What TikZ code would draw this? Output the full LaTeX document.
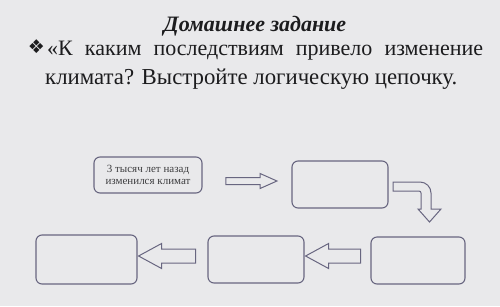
\documentclass[tikz,border=0pt]{standalone}
\usepackage{fontspec}
\setmainfont{Liberation Serif}
\newfontfamily\symfont{DejaVu Sans}
\usetikzlibrary{shapes, arrows, positioning, calc}

\definecolor{bgcol}{RGB}{233,233,235}
\definecolor{boxcol}{RGB}{104,102,128}
\definecolor{inkcol}{RGB}{28,28,30}

\begin{document}
\begin{tikzpicture}[x=1pt, y=-1pt,
    stepbox/.style={draw=boxcol, line width=1.1pt, rounded corners=6pt, inner sep=0pt},
    thinarrow/.style={single arrow, draw=boxcol, line width=1pt, inner xsep=0pt, inner ysep=3pt,
        minimum width=14pt, single arrow head extend=4pt, single arrow tip angle=48},
    widearrow/.style={single arrow, draw=boxcol, line width=1pt, inner xsep=0pt, inner ysep=6.5pt,
        minimum width=24pt, single arrow head extend=5.5pt, single arrow tip angle=57,
        shape border rotate=180}
]

% фон
\fill[bgcol] (0,0) rectangle (500,306);
\useasboundingbox (0,0) rectangle (500,306);

% заголовок
\node[inkcol, anchor=base, inner sep=0pt, font=\fontsize{22}{26}\selectfont\bfseries\itshape] (title) at (255,31) {Домашнее задание};

% вопрос
\node[inkcol, inner sep=0pt, font=\symfont\fontsize{19}{21}\selectfont] (mark) at (36.5,46.5) {❖};
\node[inkcol, anchor=base west, inner sep=0pt, font=\fontsize{22}{26}\selectfont] (line1) at (47,55)
    {\makebox[436pt][s]{«К каким последствиям привело изменение}};
\node[inkcol, anchor=base west, inner sep=0pt, font=\fontsize{22.8}{26}\selectfont] (line2) at (45,84)
    {климата? Выстройте логическую цепочку.};

% верхний ряд
\node[stepbox, minimum width=108pt, minimum height=36pt, align=center,
    font=\fontsize{11}{12.5}\selectfont, text=inkcol!85] (b1) at (148,175)
    {3 тысяч лет назад\\изменился климат};
\node[thinarrow, minimum height=51pt] (a1) at (247.5,181) {};
\node[stepbox, minimum width=96pt, minimum height=47pt] (b2) at (340,184.5) {};

% поворот вниз
\draw[boxcol, line width=1pt] (393,182) [rounded corners=11pt] -- (431,182) [sharp corners]
    -- (431,209) -- (441,209) -- (429.5,222) -- (418,209) -- (421,209)
    [rounded corners=2pt] -- (421,191) [sharp corners] -- (393,191) -- cycle;

% нижний ряд
\node[stepbox, minimum width=94pt, minimum height=47pt] (b3) at (418,260.5) {};
\node[widearrow, minimum height=55pt] (a2) at (339.5,256) {};
\node[stepbox, minimum width=96pt, minimum height=47pt] (b4) at (256,259.5) {};
\node[widearrow, minimum height=57pt] (a3) at (173.5,256) {};
\node[stepbox, minimum width=101pt, minimum height=49pt] (b5) at (86.5,259.5) {};
\end{tikzpicture}
\end{document}
